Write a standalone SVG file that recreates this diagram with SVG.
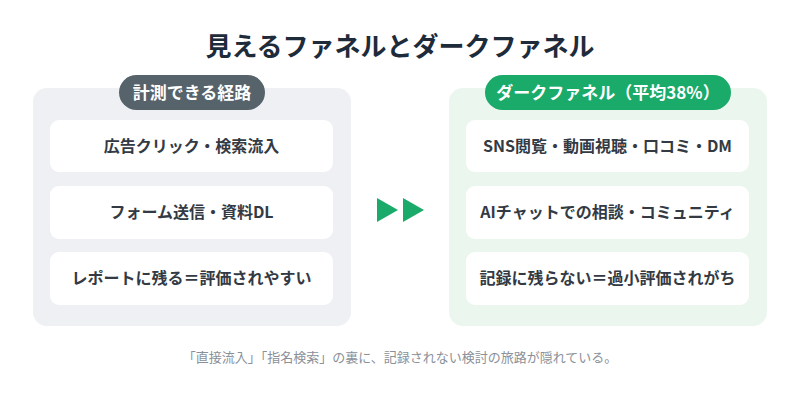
<svg xmlns="http://www.w3.org/2000/svg" width="800" height="400" viewBox="0 0 800 400">
<style>
text{font-family:"Noto Sans CJK JP","Noto Sans",sans-serif;font-weight:700;text-anchor:middle}
.t{fill:#1e2b3a;font-size:26px}
.c{fill:#333a44;font-size:16px}
.p{fill:#fff;font-size:17px}
.card{fill:#fff}
.n{fill:#8a9099;font-size:13px;font-weight:400}
</style>
<rect width="800" height="400" fill="#fff"/>
<text class="t" x="400" y="56">見えるファネルとダークファネル</text>
<g id="measured">
<rect x="33" y="88" width="318" height="238" rx="14" fill="#eef0f3"/>
<rect x="119" y="75" width="146" height="35" rx="17.5" fill="#57636b"/>
<text class="p" x="192" y="99">計測できる経路</text>
</g>
<g id="m1"><rect class="card" x="50" y="120" width="283" height="52" rx="9"/><text class="c" x="191.5" y="152">広告クリック・検索流入</text></g>
<g id="m2"><rect class="card" x="50" y="186" width="283" height="53" rx="9"/><text class="c" x="191.5" y="218">フォーム送信・資料DL</text></g>
<g id="m3"><rect class="card" x="50" y="252" width="283" height="53" rx="9"/><text class="c" x="191.5" y="284">レポートに残る＝評価されやすい</text></g>
<g id="connectors">
<polygon points="377,198 398,210 377,222" fill="#1aaa6a"/>
<polygon points="403,198 424,210 403,222" fill="#1aaa6a"/>
</g>
<g id="dark">
<rect x="449" y="88" width="318" height="238" rx="14" fill="#ebf6ef"/>
<rect x="485" y="75" width="246" height="35" rx="17.5" fill="#1aaa6a"/>
<text class="p" x="608" y="99">ダークファネル（平均38%）</text>
</g>
<g id="d1"><rect class="card" x="466" y="120" width="283" height="52" rx="9"/><text class="c" x="607.5" y="152">SNS閲覧・動画視聴・口コミ・DM</text></g>
<g id="d2"><rect class="card" x="466" y="186" width="283" height="53" rx="9"/><text class="c" x="607.5" y="218">AIチャットでの相談・コミュニティ</text></g>
<g id="d3"><rect class="card" x="466" y="252" width="283" height="53" rx="9"/><text class="c" x="607.5" y="284">記録に残らない＝過小評価されがち</text></g>
<text class="n" x="400" y="362">「直接流入」「指名検索」の裏に、記録されない検討の旅路が隠れている。</text>
</svg>
